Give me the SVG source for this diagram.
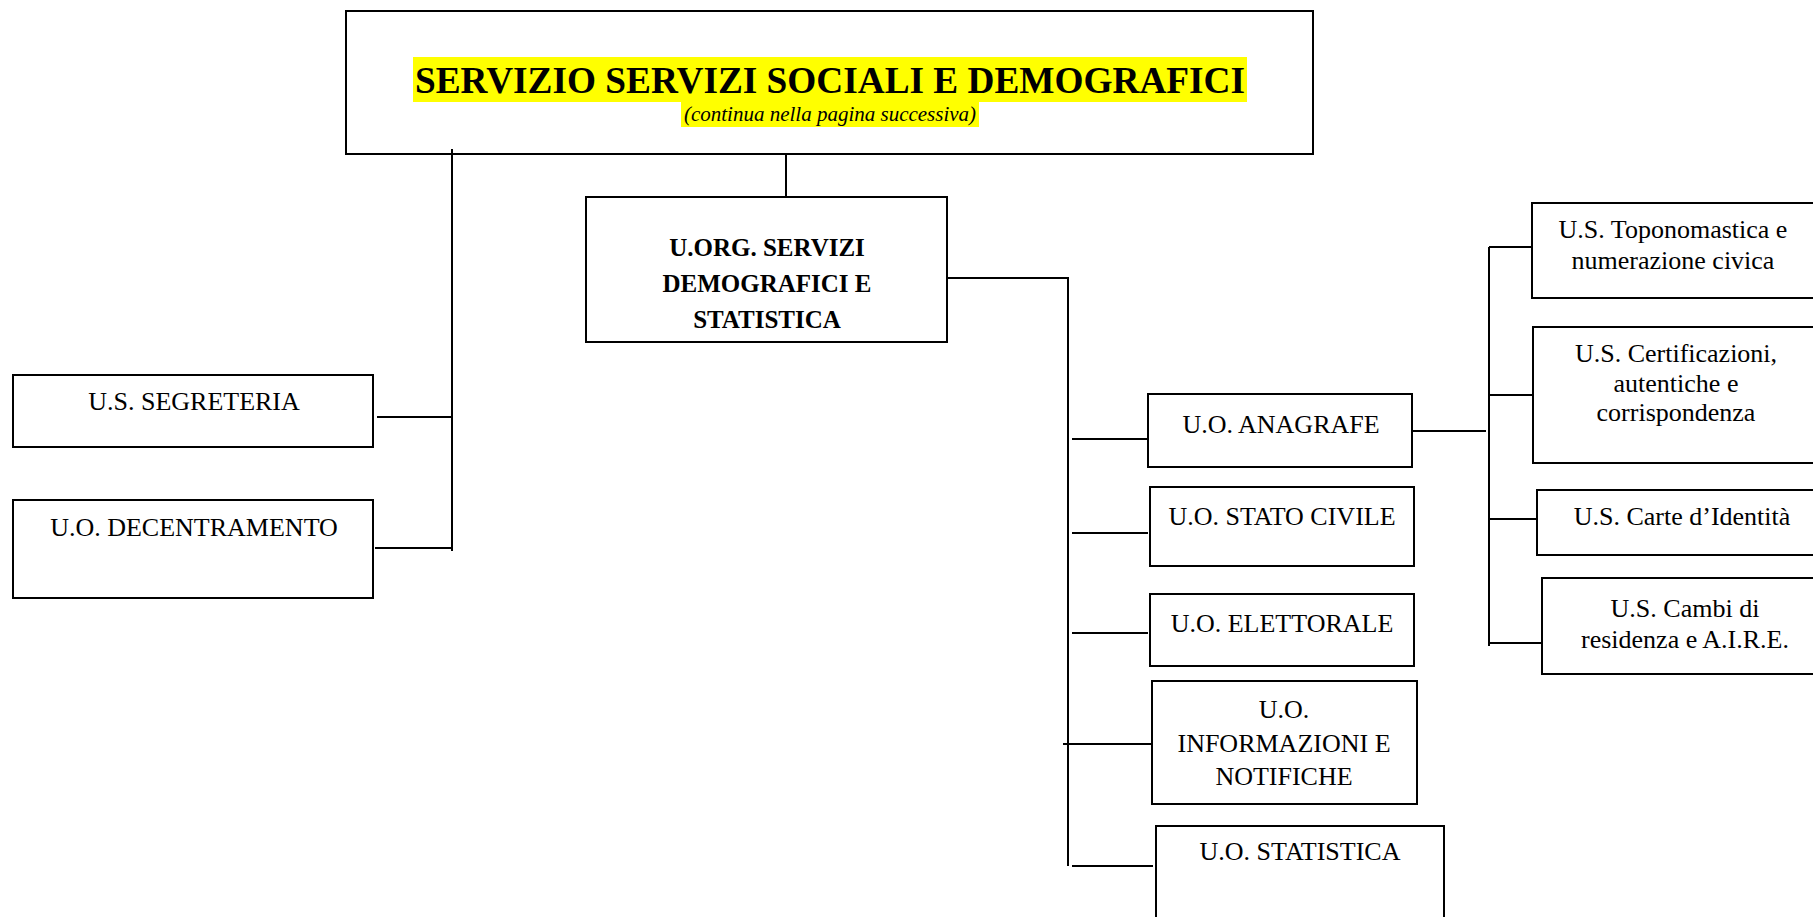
<svg xmlns="http://www.w3.org/2000/svg" width="1813" height="917" viewBox="0 0 1813 917">
<style>
.box{fill:#ffffff;stroke:#000000;stroke-width:2}
.hl{fill:#ffff00;stroke:none}
.t{font-family:"Liberation Serif","Times New Roman",serif;font-size:26px;fill:#000000;text-anchor:middle}
.b{font-weight:bold;font-size:25px}
.title{font-family:"Liberation Serif","Times New Roman",serif;font-weight:bold;font-size:37px;text-anchor:middle;fill:#000}
.sub{font-family:"Liberation Serif","Times New Roman",serif;font-style:italic;font-size:21px;text-anchor:middle;fill:#000}
.c{stroke:#000000;stroke-width:2;fill:none}
</style>
<rect width="1813" height="917" fill="#ffffff"/>
<g id="servizio">
<rect class="box" x="346" y="11" width="967" height="143"/>
<rect class="hl" x="413" y="57" width="834" height="45"/>
<rect class="hl" x="681" y="102" width="298" height="25"/>
<text class="title" x="830" y="93" textLength="830" lengthAdjust="spacingAndGlyphs">SERVIZIO SERVIZI SOCIALI E DEMOGRAFICI</text>
<text class="sub" x="830" y="121">(continua nella pagina successiva)</text>
</g>
<g id="segreteria">
<rect class="box" x="13" y="375" width="360" height="72"/>
<text class="t" x="194" y="410">U.S. SEGRETERIA</text>
</g>
<g id="decentramento">
<rect class="box" x="13" y="500" width="360" height="98"/>
<text class="t" x="194" y="536">U.O. DECENTRAMENTO</text>
</g>
<g id="uorg">
<rect class="box" x="586" y="197" width="361" height="145"/>
<text class="t b" x="767" y="256">U.ORG. SERVIZI</text>
<text class="t b" x="767" y="292">DEMOGRAFICI E</text>
<text class="t b" x="767" y="328">STATISTICA</text>
</g>
<g id="anagrafe">
<rect class="box" x="1148" y="394" width="264" height="73"/>
<text class="t" x="1281" y="433">U.O. ANAGRAFE</text>
</g>
<g id="statocivile">
<rect class="box" x="1150" y="487" width="264" height="79"/>
<text class="t" x="1282" y="525">U.O. STATO CIVILE</text>
</g>
<g id="elettorale">
<rect class="box" x="1150" y="594" width="264" height="72"/>
<text class="t" x="1282" y="632">U.O. ELETTORALE</text>
</g>
<g id="informazioni">
<rect class="box" x="1152" y="681" width="265" height="123"/>
<text class="t" x="1284" y="718">U.O.</text>
<text class="t" x="1284" y="752">INFORMAZIONI E</text>
<text class="t" x="1284" y="785">NOTIFICHE</text>
</g>
<g id="statistica">
<rect class="box" x="1156" y="826" width="288" height="110"/>
<text class="t" x="1300" y="860">U.O. STATISTICA</text>
</g>
<g id="toponomastica">
<rect class="box" x="1532" y="203" width="300" height="95"/>
<text class="t" x="1673" y="238">U.S. Toponomastica e</text>
<text class="t" x="1673" y="269">numerazione civica</text>
</g>
<g id="certificazioni">
<rect class="box" x="1533" y="327" width="300" height="136"/>
<text class="t" x="1676" y="362">U.S. Certificazioni,</text>
<text class="t" x="1676" y="392">autentiche e</text>
<text class="t" x="1676" y="421">corrispondenza</text>
</g>
<g id="carte">
<rect class="box" x="1537" y="490" width="300" height="65"/>
<text class="t" x="1682" y="525">U.S. Carte d’Identità</text>
</g>
<g id="cambi">
<rect class="box" x="1542" y="578" width="300" height="96"/>
<text class="t" x="1685" y="617">U.S. Cambi di</text>
<text class="t" x="1685" y="648">residenza e A.I.R.E.</text>
</g>
<g id="connectors">
<line class="c" x1="452" y1="149" x2="452" y2="551"/>
<line class="c" x1="377" y1="417" x2="452" y2="417"/>
<line class="c" x1="375" y1="548" x2="452" y2="548"/>
<line class="c" x1="786" y1="154" x2="786" y2="197"/>
<line class="c" x1="947" y1="278" x2="1069" y2="278"/>
<line class="c" x1="1068" y1="277" x2="1068" y2="866"/>
<line class="c" x1="1072" y1="439" x2="1148" y2="439"/>
<line class="c" x1="1072" y1="533" x2="1148" y2="533"/>
<line class="c" x1="1072" y1="633" x2="1148" y2="633"/>
<line class="c" x1="1063" y1="744" x2="1152" y2="744"/>
<line class="c" x1="1072" y1="866" x2="1153" y2="866"/>
<line class="c" x1="1412" y1="431" x2="1486" y2="431"/>
<line class="c" x1="1489" y1="247" x2="1489" y2="646"/>
<line class="c" x1="1489" y1="247" x2="1532" y2="247"/>
<line class="c" x1="1490" y1="395" x2="1533" y2="395"/>
<line class="c" x1="1490" y1="519" x2="1537" y2="519"/>
<line class="c" x1="1490" y1="643" x2="1542" y2="643"/>
</g>
</svg>
